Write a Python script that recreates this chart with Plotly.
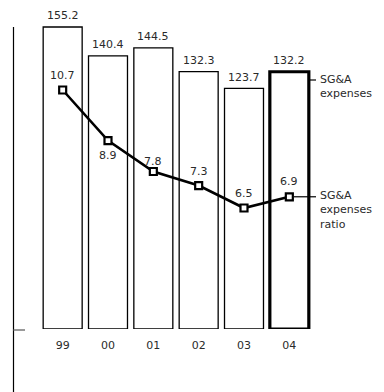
import plotly.graph_objects as go

# Fiscal years and values
years = ["99", "00", "01", "02", "03", "04"]
sga_expenses = [155.2, 140.4, 144.5, 132.3, 123.7, 132.2]
sga_ratio = [10.7, 8.9, 7.8, 7.3, 6.5, 6.9]

FONT = "DejaVu Sans"
TXT = "#2a2a2a"

# Plot area geometry (pixels)
W, H = 384, 392
ML, MR, MT, MB = 40, 72, 20, 63
plot_h = H - MT - MB

bar_line_w = [1.3] * (len(years) - 1) + [3.2]

fig = go.Figure()
fig.add_trace(go.Bar(
    x=years, y=sga_expenses,
    marker=dict(color="white", line=dict(color="black", width=bar_line_w)),
    hoverinfo="skip", showlegend=False,
))
fig.add_trace(go.Scatter(
    x=years, y=sga_ratio, yaxis="y2", mode="lines+markers",
    line=dict(color="black", width=2.6),
    marker=dict(symbol="square", size=7, color="white",
                line=dict(color="black", width=2.2)),
    hoverinfo="skip", showlegend=False, cliponaxis=False,
))

annotations = []
# Bar value labels (category axis positions addressed by index)
for i, v in enumerate(sga_expenses):
    annotations.append(dict(x=i, y=v, xref="x", yref="y", text=f"{v:.1f}",
                            showarrow=False, yanchor="middle", yshift=11,
                            font=dict(family=FONT, size=11, color=TXT)))
# Ratio labels: above the point except where the line would cross
ratio_shift = [15, -15, 10, 14, 15, 15]
for i, (v, s) in enumerate(zip(sga_ratio, ratio_shift)):
    annotations.append(dict(x=i, y=v, xref="x", yref="y2", text=f"{v:.1f}",
                            showarrow=False, yanchor="middle", yshift=s,
                            font=dict(family=FONT, size=11, color=TXT)))

# Series captions on the right
def paper_y(py):
    return (H - MB - py) / plot_h

def paper_x(px):
    return (px - ML) / (W - ML - MR)

cap_x = paper_x(317.5)
annotations.append(dict(x=cap_x, y=paper_y(86.5), xref="paper", yref="paper",
                        text="SG&A<br>expenses", showarrow=False, align="left",
                        xanchor="left", yanchor="middle",
                        font=dict(family=FONT, size=11, color=TXT)))
annotations.append(dict(x=cap_x, y=paper_y(210.5), xref="paper", yref="paper",
                        text="SG&A<br>expenses<br>ratio", showarrow=False, align="left",
                        xanchor="left", yanchor="middle",
                        font=dict(family=FONT, size=11, color=TXT)))

shapes = [
    # left rule
    dict(type="line", xref="paper", yref="paper", x0=paper_x(13.5), x1=paper_x(13.5),
         y0=paper_y(27), y1=paper_y(392), line=dict(color="black", width=1.2)),
    # baseline tick
    dict(type="line", xref="paper", yref="paper", x0=paper_x(13.5), x1=paper_x(25),
         y0=paper_y(330), y1=paper_y(330), line=dict(color="#777", width=1.5)),
    # caption leaders
    dict(type="line", xref="paper", yref="paper", x0=paper_x(309), x1=paper_x(316),
         y0=paper_y(80), y1=paper_y(80), line=dict(color="black", width=1.2)),
    dict(type="line", xref="paper", yref="y2", x0=paper_x(294), x1=paper_x(316),
         y0=sga_ratio[-1], y1=sga_ratio[-1], line=dict(color="black", width=1.2)),
]

px_per_unit = 1.946
ratio_px = 28.1
ratio_top = 10.7 + (90 - MT) / ratio_px
ratio_bot = 10.7 - (H - MB - 90) / ratio_px

fig.update_layout(
    width=W, height=H, margin=dict(l=ML, r=MR, t=MT, b=MB),
    paper_bgcolor="white", plot_bgcolor="white",
    bargap=0.14,
    xaxis=dict(type="category", range=[-0.5, 5.5], showline=False, showgrid=False,
               zeroline=False, ticks="", ticklabelstandoff=8,
               tickfont=dict(family=FONT, size=11, color=TXT)),
    yaxis=dict(range=[0, plot_h / px_per_unit], visible=False, fixedrange=True),
    yaxis2=dict(range=[ratio_bot, ratio_top], overlaying="y", visible=False),
    annotations=annotations, shapes=shapes,
)

fig.write_html("out.html")
